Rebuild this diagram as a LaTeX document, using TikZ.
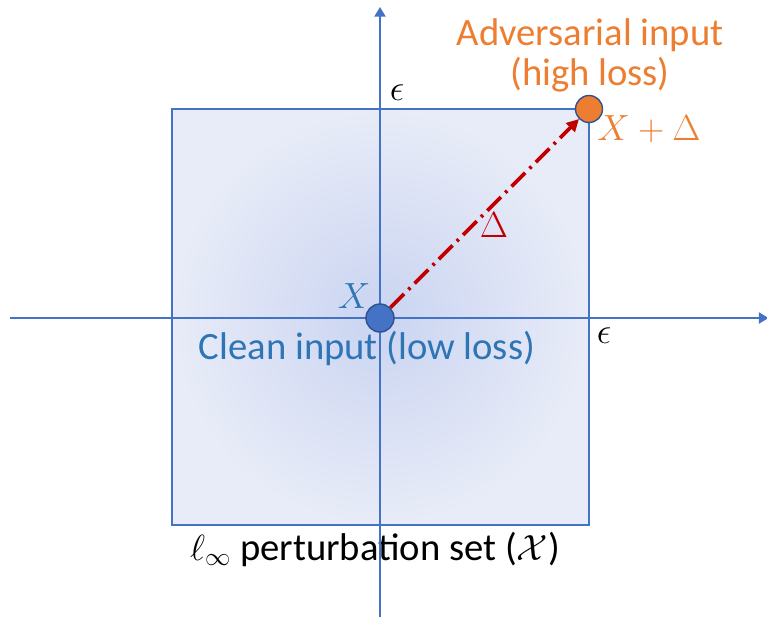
\documentclass[tikz,border=0pt]{standalone}
\usepackage{fontspec}
\setmainfont{Carlito}
\usetikzlibrary{arrows.meta}
\definecolor{axisblue}{HTML}{4472C4}
\definecolor{advorange}{HTML}{ED7D31}
\definecolor{deltared}{HTML}{C00000}
\definecolor{cleanblue}{HTML}{2E75B6}
\definecolor{ptedge}{HTML}{2F528F}
\definecolor{setinner}{HTML}{CAD4F1}
\definecolor{setouter}{HTML}{E8ECF8}
\begin{document}
\begin{tikzpicture}[>=Triangle,
    axis/.style={draw=axisblue, line width=1pt, ->, shorten >=-2pt},
    point/.style={circle, minimum size=0.56cm, inner sep=0pt, line width=0.8pt},
    lbl/.style={font=\fontsize{22}{26}\selectfont, inner sep=0pt}]
        \useasboundingbox (-7.6,-5.98) rectangle (7.74,6.36);

        % Perturbation set
        \shade[inner color=setinner, outer color=setouter] (-4.16,-4.14) rectangle (4.18,4.18);
        \draw[axisblue, line width=0.9pt] (-4.16,-4.14) rectangle (4.18,4.18);

        % Labels
        \node[lbl, text=advorange] (advtxt) at (4.2,5.66) {Adversarial input};
        \node[lbl, text=advorange] (hightxt) at (4.2,4.86) {(high loss)};
        \node[lbl, text=advorange] (advx) at (5.38,3.78) {$X+\Delta$};
        \node[lbl, text=deltared] (dlt) at (2.28,1.86) {$\Delta$};
        \node[lbl, text=cleanblue] (cleanx) at (-0.52,0.44) {$X$};
        \node[lbl, text=cleanblue] (cleantxt) at (-0.26,-0.6) {Clean input (low loss)};
        \node[lbl] (epsy) at (0.34,4.5) {$\epsilon$};
        \node[lbl] (epsx) at (4.48,-0.36) {$\epsilon$};
        \node[lbl] (settxt) at (-0.1,-4.62) {$\ell_\infty$ perturbation set ($\mathcal{X}$)};

        % Axes
        \coordinate (xl) at (-7.4,0);
        \coordinate (xr) at (7.7,0);
        \coordinate (yb) at (0,-5.98);
        \coordinate (yt) at (0,6.15);
        \draw[axis] (xl) -- (xr);
        \draw[axis] (yb) -- (yt);

        % Points
        \node[point, fill=axisblue, draw=ptedge] (clean) at (0,0) {};
        \node[point, fill=advorange, draw=ptedge, minimum size=0.54cm] (adv) at (4.18,4.18) {};
        \draw[deltared, line width=2.2pt, dash pattern=on 11pt off 3.5pt on 1.5pt off 3.5pt,
            -{Triangle[length=7pt, width=7pt]}] (clean) -- (adv);
\end{tikzpicture}
\end{document}
